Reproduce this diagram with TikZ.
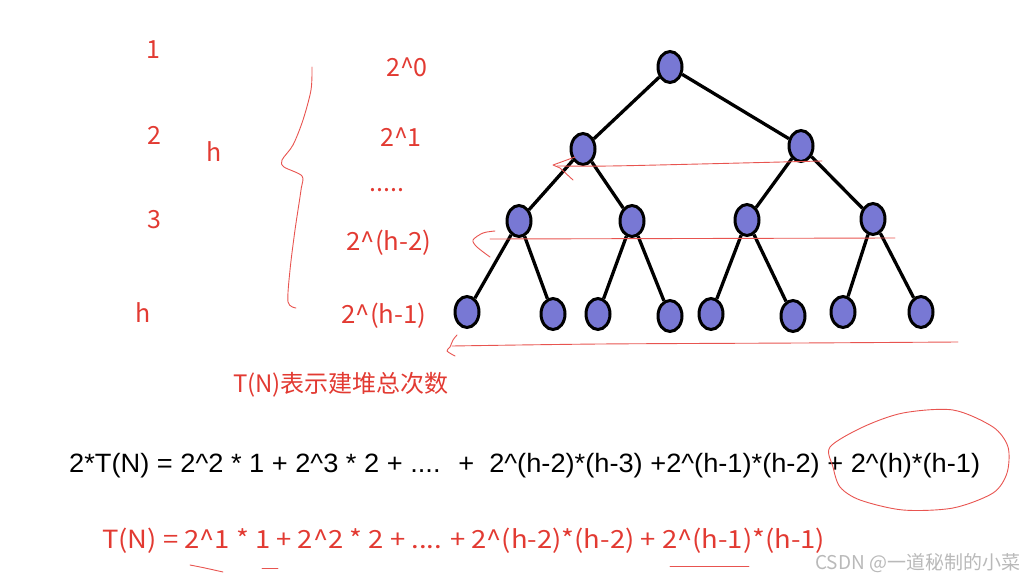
\documentclass[tikz,border=0pt]{standalone}
\usepackage{fontspec}
\usepackage{graphicx}
\usepackage{tikz}
\usetikzlibrary{shapes.geometric,positioning}
\setmainfont{Noto Sans CJK SC}
\newfontfamily\formfont{Liberation Sans}
\definecolor{inkred}{RGB}{226,58,50}
\definecolor{penred}{RGB}{232,84,80}
\definecolor{heapblue}{RGB}{120,120,212}
\definecolor{markgray}{RGB}{185,185,185}
\newcommand{\caret}{\textasciicircum}

\begin{document}
\begin{tikzpicture}[
    x=1pt, y=-1pt,
    font=\fontsize{25}{29}\selectfont,
    heap/.style={ellipse, draw=black, line width=3pt, fill=heapblue,
                 minimum width=24pt, minimum height=31pt, inner sep=0pt},
    edge/.style={line width=3.3pt},
    lab/.style={text=inkred, inner sep=0pt},
    pen/.style={penred, line width=0.9pt, line cap=round, line join=round}
]
\useasboundingbox (0,0) rectangle (1030,580);

% heap tree
\node[heap] (n1) at (670,67) {};
\node[heap] (n2) at (583,149) {};
\node[heap] (n3) at (801,146) {};
\node[heap] (n4) at (519,221) {};
\node[heap] (n5) at (632,221) {};
\node[heap] (n6) at (747,220) {};
\node[heap] (n7) at (873,219) {};
\node[heap] (n8) at (467,312) {};
\node[heap] (n9) at (553,314) {};
\node[heap] (n10) at (598,314) {};
\node[heap] (n11) at (670,316) {};
\node[heap] (n12) at (711,314) {};
\node[heap] (n13) at (793,316) {};
\node[heap] (n14) at (843,312) {};
\node[heap] (n15) at (921,312) {};

\draw[edge] (n1) -- (n2); \draw[edge] (n1) -- (n3);
\draw[edge] (n2) -- (n4); \draw[edge] (n2) -- (n5);
\draw[edge] (n3) -- (n6); \draw[edge] (n3) -- (n7);
\draw[edge] (n4) -- (n8); \draw[edge] (n4) -- (n9);
\draw[edge] (n5) -- (n10); \draw[edge] (n5) -- (n11);
\draw[edge] (n6) -- (n12); \draw[edge] (n6) -- (n13);
\draw[edge] (n7) -- (n14); \draw[edge] (n7) -- (n15);

% level strokes
\draw[pen] (575,157) -- (553,165) -- (560,168) -- (573,180);
\draw[pen] plot[smooth] coordinates {(557,166) (610,166) (700,164) (822,161)};
\draw[pen] plot[smooth] coordinates {(495,231) (483,233) (473,240) (477,247) (490,257)};
\draw[pen] (490,239) -- (895,238);
\draw[pen] plot[smooth] coordinates {(457,335) (453,340) (450,347) (447,351) (455,356)};
\draw[pen] plot[smooth] coordinates {(452,346) (600,344) (800,343) (958,342)};

% level labels
\node[lab] (d1) at (153,50) {1};
\node[lab] (d2) at (154,135) {2};
\node[lab] (hh) at (214,152) {h};
\node[lab] (d3) at (154,220) {3};
\node[lab] (dh) at (143,313) {h};

\draw[pen] plot[smooth] coordinates {(312,67) (311,90) (303,120) (293,145) (282,160)
    (284,167) (302,176) (301,190) (295,230) (290,270) (288,302) (296,308)};

\node[lab] (p0) at (407,67) {2\caret0};
\node[lab] (p1) at (401,137) {2\caret1};
\node[lab] (pd) at (387,190) {.....};
\node[lab] (p2) at (389,243) {\resizebox{85pt}{\height}{2\caret(h-2)}};
\node[lab] (p3) at (384,316) {\resizebox{85pt}{\height}{2\caret(h-1)}};

\node[lab, font=\fontsize{24}{28}\selectfont] (tn) at (341,385) {T(N)表示建堆总次数};

% sums
\node[inner sep=0pt, anchor=west, font=\formfont\fontsize{26.5}{30}\selectfont] (f1) at (69,466)
  {\resizebox{911pt}{\height}{2*T(N) = 2\caret2 * 1 + 2\caret3 * 2 + .... \ + \ 2\caret(h-2)*(h-3) +2\caret(h-1)*(h-2) + 2\caret(h)*(h-1)}};
\draw[pen] plot[smooth cycle] coordinates {(830,447) (863,427) (903,413) (953,410) (993,427)
    (1008,447) (1007,473) (993,493) (953,508) (903,510) (860,500) (840,487) (833,467)};

\node[lab, anchor=west] (f2) at (102,541)
  {\resizebox{723pt}{\height}{T(N) = 2\caret1 * 1 + 2\caret2 * 2 + .... + 2\caret(h-2)*(h-2) + 2\caret(h-1)*(h-1)}};
\draw[pen] plot[smooth] coordinates {(190,565) (205,568) (223,572)};
\draw[pen] (262,568) -- (278,568);
\draw[pen] (670,566) -- (749,566);

\node[text=markgray, anchor=west, inner sep=0pt, font=\fontsize{19}{21}\selectfont] (wm) at (815,563)
  {CSDN @一道秘制的小菜};
\end{tikzpicture}
\end{document}
